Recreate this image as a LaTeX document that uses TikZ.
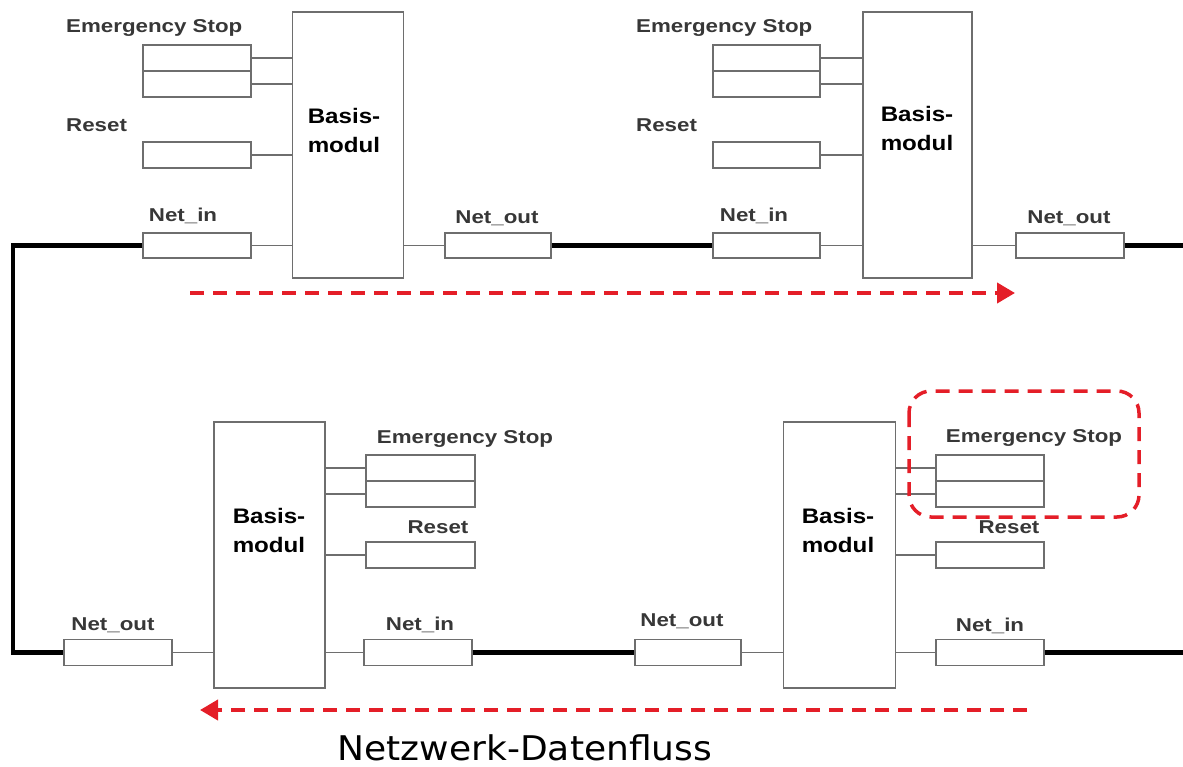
\documentclass[tikz,border=0pt]{standalone}
\usepackage{fontspec}
\usetikzlibrary{arrows.meta}
\newfontfamily\labf[FakeStretch=1.2]{Liberation Sans}
\newfontfamily\basf[FakeStretch=1.15]{Liberation Sans}
\newfontfamily\titf[FakeStretch=1.06]{DejaVu Sans}
\definecolor{boxgray}{RGB}{110,110,110}
\definecolor{labgray}{RGB}{55,55,55}
\definecolor{flowred}{RGB}{228,30,40}
\begin{document}
\begin{tikzpicture}[x=1pt,y=-1pt,
  port/.style={draw=boxgray,line width=1.3pt,minimum width=108pt,minimum height=26pt,inner sep=0pt,fill=white},
  basis/.style={draw=boxgray,line width=1.3pt,minimum width=111pt,minimum height=266pt,inner sep=0pt},
  wire/.style={draw=boxgray,line width=1.3pt},
  net/.style={draw=black,line width=4.5pt,line join=miter},
  lab/.style={text=labgray,font={\labf\bfseries\fontsize{18.6}{20}\selectfont},inner sep=0pt},
  blab/.style={text=black,font={\basf\bfseries\fontsize{21}{29}\selectfont},align=left,inner sep=0pt},
  flow/.style={draw=flowred,line width=4pt,dash pattern=on 14pt off 9pt,-{Triangle[length=18pt,width=20pt]}}
]
\useasboundingbox (0,0) rectangle (1183,767);

% ---------- top-left module
\node[basis] (bA) at (348,145) {};
\node[blab] (tA) at (344,130) {Basis-\\modul};
\node[port] (esA1) at (197,58) {};
\node[port] (esA2) at (197,84) {};
\node[port] (resA) at (197,155) {};
\node[port,minimum height=25pt] (inA) at (197,245.5) {};
\node[port,minimum width=106pt,minimum height=25pt] (outA) at (498,245.5) {};
\node[lab,anchor=west] (lesA) at (66,28) {Emergency Stop};
\node[lab,anchor=west] (lresA) at (66,125) {Reset};
\node[lab] (linA) at (183,216) {Net\_in};
\node[lab] (loutA) at (497,218) {Net\_out};
\draw[wire] (esA1.east) -- (esA1.east -| bA.west);
\draw[wire] (esA2.east) -- (esA2.east -| bA.west);
\draw[wire] (resA.east) -- (resA.east -| bA.west);
\draw[wire] (inA.east) -- (inA.east -| bA.west);
\draw[wire] (outA.west -| bA.east) -- (outA.west);

% ---------- top-right module
\node[basis,minimum width=109pt] (bB) at (917.5,145) {};
\node[blab] (tB) at (917,128) {Basis-\\modul};
\node[port,minimum width=107pt] (esB1) at (766.5,58) {};
\node[port,minimum width=107pt] (esB2) at (766.5,84) {};
\node[port,minimum width=107pt] (resB) at (766.5,155) {};
\node[port,minimum width=107pt,minimum height=25pt] (inB) at (766.5,245.5) {};
\node[port,minimum height=25pt] (outB) at (1070,245.5) {};
\node[lab,anchor=west] (lesB) at (636,28) {Emergency Stop};
\node[lab,anchor=west] (lresB) at (636,125) {Reset};
\node[lab] (linB) at (754,216) {Net\_in};
\node[lab] (loutB) at (1069,218) {Net\_out};
\draw[wire] (esB1.east) -- (esB1.east -| bB.west);
\draw[wire] (esB2.east) -- (esB2.east -| bB.west);
\draw[wire] (resB.east) -- (resB.east -| bB.west);
\draw[wire] (inB.east) -- (inB.east -| bB.west);
\draw[wire] (outB.west -| bB.east) -- (outB.west);

% ---------- bottom-left module
\node[basis] (bC) at (269.5,555) {};
\node[blab] (tC) at (269,530) {Basis-\\modul};
\node[port,minimum width=109pt] (esC1) at (420.5,468) {};
\node[port,minimum width=109pt] (esC2) at (420.5,494) {};
\node[port,minimum width=109pt] (resC) at (420.5,555) {};
\node[port] (inC) at (418,652.5) {};
\node[port] (outC) at (118,652.5) {};
\node[lab] (lesC) at (465,439) {Emergency Stop};
\node[lab] (lresC) at (438,527) {Reset};
\node[lab] (linC) at (420,625) {Net\_in};
\node[lab] (loutC) at (113,625) {Net\_out};
\draw[wire] (esC1.west -| bC.east) -- (esC1.west);
\draw[wire] (esC2.west -| bC.east) -- (esC2.west);
\draw[wire] (resC.west -| bC.east) -- (resC.west);
\draw[wire] (inC.west -| bC.east) -- (inC.west);
\draw[wire] (outC.east) -- (outC.east -| bC.west);

% ---------- bottom-right module
\node[basis,minimum width=112pt] (bD) at (839.5,555) {};
\node[blab] (tD) at (838,530) {Basis-\\modul};
\node[port] (esD1) at (990,468) {};
\node[port] (esD2) at (990,494) {};
\node[port] (resD) at (990,555) {};
\node[port] (inD) at (990,652.5) {};
\node[port,minimum width=106pt] (outD) at (688,652.5) {};
\node[lab] (lesD) at (1034,438) {Emergency Stop};
\node[lab] (lresD) at (1009,527) {Reset};
\node[lab] (linD) at (990,626) {Net\_in};
\node[lab] (loutD) at (682,621) {Net\_out};
\draw[wire] (esD1.west -| bD.east) -- (esD1.west);
\draw[wire] (esD2.west -| bD.east) -- (esD2.west);
\draw[wire] (resD.west -| bD.east) -- (resD.west);
\draw[wire] (inD.west -| bD.east) -- (inD.west);
\draw[wire] (outD.east) -- (outD.east -| bD.west);

% ---------- network (thick) lines
\coordinate (cB) at (13,652.5);
\coordinate (eR1) at (1183,245.5);
\coordinate (eR2) at (1183,652.5);
\draw[net] (inA.west) -| (cB) -- (outC.west);
\draw[net] (outA.east) -- (inB.west);
\draw[net] (outB.east) -- (eR1);
\draw[net] (inC.east) -- (outD.west);
\draw[net] (inD.east) -- (eR2);

% ---------- highlight
\draw[draw=flowred,line width=3.5pt,dash pattern=on 14pt off 9pt,rounded corners=22pt]
  (909,391) rectangle (1139,517);

% ---------- data flow arrows
\coordinate (fA1) at (190,293);
\coordinate (fA2) at (1015,293);
\coordinate (fB1) at (1027,710);
\coordinate (fB2) at (200,710);
\draw[flow] (fA1) -- (fA2);
\draw[flow] (fB1) -- (fB2);

\node[inner sep=0pt,font={\titf\fontsize{34}{40}\selectfont}] (title) at (525,748) {Netzwerk-Datenfluss};
\end{tikzpicture}
\end{document}
